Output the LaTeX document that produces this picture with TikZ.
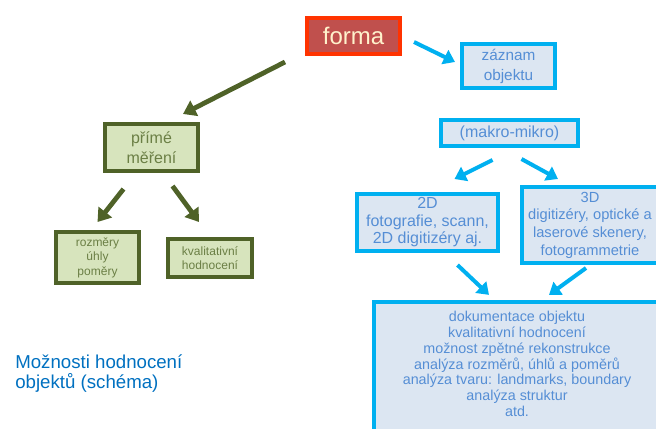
\documentclass[tikz,border=0pt]{standalone}
\usepackage{fontspec}
\setmainfont{Liberation Sans}
\usetikzlibrary{arrows.meta}
\definecolor{formared}{HTML}{C0504D}
\definecolor{formaline}{HTML}{FF3300}
\definecolor{formatext}{HTML}{FFF2CC}
\definecolor{meradark}{HTML}{4F6228}
\definecolor{merafill}{HTML}{D7E4BD}
\definecolor{meratext}{HTML}{6B7F45}
\definecolor{zaznamline}{HTML}{00B0F0}
\definecolor{zaznamfill}{HTML}{DCE6F2}
\definecolor{zaznamtext}{HTML}{558ED5}
\definecolor{titleblue}{HTML}{0070C0}
\begin{document}
\begin{tikzpicture}
      [x=0.75pt,y=-0.75pt,
       formabox/.style={draw=formaline,fill=formared,text=formatext,line width=3pt,
         minimum width=69.75pt,minimum height=27pt,inner sep=0pt,font=\fontsize{18}{20}\selectfont},
       merabox/.style={draw=meradark,fill=merafill,text=meratext,line width=3pt,
         align=center,inner sep=0pt},
       zbox/.style={draw=zaznamline,fill=zaznamfill,text=zaznamtext,line width=3pt,
         align=center,inner sep=0pt},
       mera/.style={draw=meradark,line width=3.6pt,-{Triangle[width=12.5pt,length=9.5pt]}},
       zarrow/.style={draw=zaznamline,line width=3pt,-{Triangle[width=11.5pt,length=8.5pt]}}]
      \useasboundingbox (0,0) rectangle (656,428);
      % horni cast
      \node[formabox] (forma) at (353.5,36) {forma};
      \node[zbox,minimum width=69.75pt,minimum height=33pt,
        font=\fontsize{11.5}{15}\selectfont] (zaznam) at (508.5,66) {záznam\\objektu};
      % prime mereni
      \node[merabox,minimum width=69.75pt,minimum height=35.25pt,
        font=\fontsize{12}{15}\selectfont] (prime) at (151.5,147.5) {přímé\\měření};
      \node[merabox,minimum width=62.25pt,minimum height=38.25pt,
        font=\fontsize{9}{10.8}\selectfont] (rozmery) at (97.5,257.5) {rozměry\\úhly\\poměry};
      \node[merabox,minimum width=63pt,minimum height=28.5pt,
        font=\fontsize{9}{10.5}\selectfont] (kval) at (210,258) {kvalitativní\\hodnocení};
      % zaznam objektu
      \node[zbox,minimum width=102.75pt,minimum height=19.5pt,
        font=\fontsize{12}{14}\selectfont] (makro) at (509.5,133) {(makro-mikro)};
      \node[zbox,minimum width=105.75pt,minimum height=42.75pt,
        font=\fontsize{12}{13.1}\selectfont] (dvad) at (427.5,222.5)
        {2D\\fotografie, scann,\\2D digitizéry aj.};
      \node[zbox,minimum width=102pt,minimum height=57pt,
        font=\fontsize{11}{13.3}\selectfont] (trid) at (590,225)
        {3D\\digitizéry, optické a\\laserové skenery,\\fotogrammetrie};
      % velky box presahuje okraj
      \coordinate (stred) at (517,364);
      \draw[draw=zaznamline,fill=zaznamfill,line width=3pt]
        ([shift={(-143,-62)}]stred) rectangle ([shift={(170,90)}]stred);
      \node[text=zaznamtext,align=center,inner sep=0pt,
        font=\fontsize{10.75}{11.9}\selectfont] (vysledek) at (stred)
        {dokumentace objektu\\kvalitativní hodnocení\\možnost zpětné rekonstrukce\\
         analýza rozměrů, úhlů a poměrů\\analýza tvaru: landmarks, boundary\\
         analýza struktur\\atd.};
      \node[anchor=north west,text=titleblue,align=left,inner sep=0pt,
        font=\fontsize{14}{15.5}\selectfont] (nadpis) at (15,354)
        {Možnosti hodnocení\\objektů (schéma)};
      % sipky
      \draw[zarrow] ([shift={(12,6)}]forma.east) -- ([shift={(-5,-4)}]zaznam.west);
      \draw[mera] ([shift={(-20,6)}]forma.south west) -- ([shift={(-17,-8)}]prime.north east);
      \draw[mera] ([shift={(-28,16)}]prime.south) -- ([shift={(0,-8)}]rozmery.north);
      \draw[mera] ([shift={(21,13)}]prime.south) -- ([shift={(-11,-15)}]kval.north);
      \draw[zarrow] ([shift={(-17,12)}]makro.south) -- ([shift={(27,-13)}]dvad.north);
      \draw[zarrow] ([shift={(12,11)}]makro.south) -- ([shift={(-32,-6)}]trid.north);
      \draw[zarrow] ([shift={(30,12)}]dvad.south) -- ([shift={(-28,-16)}]vysledek.north);
      \draw[zarrow] ([shift={(-4,3)}]trid.south) -- ([shift={(32,-16)}]vysledek.north);
    \end{tikzpicture}
\end{document}
